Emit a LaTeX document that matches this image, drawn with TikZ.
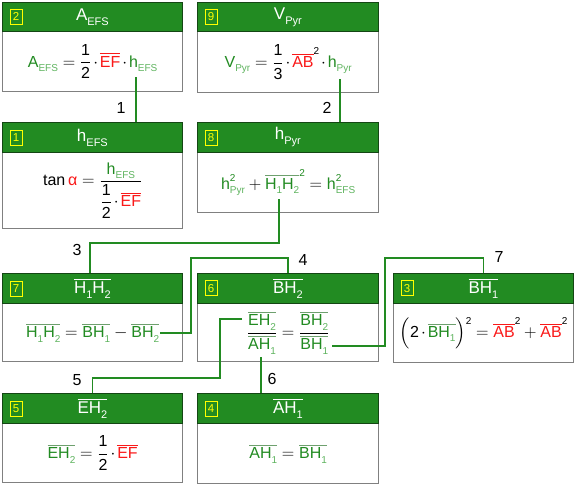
\documentclass[tikz,border=0pt]{standalone}
\usepackage{amsmath}
\usepackage{fontspec}
\setmainfont{Liberation Sans}
\usetikzlibrary{calc}
\definecolor{hdrg}{RGB}{34,139,34}
\definecolor{hdrb}{RGB}{20,70,20}
\definecolor{dg}{RGB}{34,139,34}
\definecolor{lg}{RGB}{95,180,95}
\definecolor{vred}{RGB}{250,25,25}
\definecolor{bgray}{RGB}{128,128,128}
\definecolor{badgey}{RGB}{255,255,0}
\definecolor{ovg}{RGB}{110,160,110}
\newcommand{\fs}{\fontsize{16}{19}\selectfont}
\newcommand{\tfs}{\fontsize{17}{20}\selectfont}
\newcommand{\Sb}[1]{\raisebox{-4.5pt}{\fontsize{10}{11}\selectfont #1}}
\newcommand{\Sp}[1]{\raisebox{8pt}{\fontsize{10}{11}\selectfont #1}}
\newcommand{\Spo}[1]{\text{\raisebox{12.5pt}{\fontsize{10}{11}\selectfont #1}}}
\newcommand{\TSb}[1]{\raisebox{-5pt}{\fontsize{11}{12}\selectfont #1}}
\newcommand{\dt}{\mkern2mu{\cdot}\mkern2mu}
\newcommand{\gv}[2]{\text{\textcolor{dg}{#1}\textcolor{lg}{\Sb{#2}}}}
\newcommand{\sgg}[2]{\textcolor{ovg}{\overline{\text{\textcolor{dg}{#1}\textcolor{lg}{\Sb{#2}}}}}}
\newcommand{\sgHH}{\textcolor{ovg}{\overline{\text{\textcolor{dg}{H}\textcolor{lg}{\Sb{1}}\textcolor{dg}{H}\textcolor{lg}{\Sb{2}}}}}}
\newcommand{\rEF}{\textcolor{vred}{\overline{\text{EF}}}}
\newcommand{\rAB}{\textcolor{vred}{\overline{\text{AB}}}}
\newcommand{\hsq}[1]{\text{\textcolor{dg}{h}\rlap{\textcolor{dg}{\Sp{2}}}\textcolor{lg}{\Sb{#1}}}}
\newcommand{\half}{\frac{\text{1}}{\text{2}}}
\newcommand{\mkbox}[9]{%
  \node[bodybox, minimum width=#4pt, minimum height=#6pt] (b#1) at (#2,#3+#5) {#9};
  \node[hdr, minimum width=#4pt, minimum height=#5pt] (h#1) at (#2,#3) {#8};
  \node[badge] (n#1) at ([xshift=14pt]h#1.west) {#7};
}
\begin{document}
\begin{tikzpicture}[x=1pt,y=-1pt,
  hdr/.style={draw=hdrb, line width=0.8pt, fill=hdrg, text=white, inner sep=0pt, anchor=north west, font=\tfs},
  bodybox/.style={draw=bgray, line width=1.3pt, fill=white, inner sep=0pt, anchor=north west, font=\fs},
  badge/.style={draw=badgey, line width=0.7pt, text=badgey, inner sep=0pt, minimum width=12pt, minimum height=15pt, font=\fontsize{11.5}{12}\selectfont},
  conn/.style={draw=dg, line width=1.4pt},
  lbl/.style={font=\fs, text=black, inner sep=0pt}]
\useasboundingbox (0,0) rectangle (575,485);
% row 1
\mkbox{2}{2}{2}{180}{29}{60}{2}{A\TSb{EFS}}{$\displaystyle \gv{A}{EFS}=\half\dt\rEF\dt\gv{h}{EFS}$}
\mkbox{9}{197}{2}{181}{29}{61}{9}{V\TSb{Pyr}}{$\displaystyle \gv{V}{Pyr}=\frac{\text{1}}{\text{3}}\dt\rAB\Spo{2}\dt\gv{h}{Pyr}$}
% row 2
\mkbox{1}{2}{122}{180}{30}{76}{1}{h\TSb{EFS}}{$\displaystyle \text{tan}\,\text{\textcolor{vred}{α}}=\frac{\gv{h}{EFS}}{\dfrac{\text{1}}{\text{2}}\dt\rEF}$}
\mkbox{8}{197}{122}{181}{30}{60}{8}{h\TSb{Pyr}}{$\displaystyle \hsq{Pyr}+\sgHH\text{\textcolor{dg}{\raisebox{12.5pt}{\fontsize{10}{11}\selectfont 2}}}=\hsq{EFS}$}
% row 3
\mkbox{7}{2}{273}{180}{30}{58}{7}{$\overline{\text{H\TSb{1}H\TSb{2}}}$}{$\displaystyle \sgHH=\sgg{BH}{1}-\sgg{BH}{2}$}
\mkbox{6}{197}{272.5}{181}{30.5}{58}{6}{$\overline{\text{BH\TSb{2}}}$}{$\displaystyle \frac{\sgg{EH}{2}}{\sgg{AH}{1}}=\frac{\sgg{BH}{2}}{\sgg{BH}{1}}$}
\mkbox{3}{393}{272.5}{180}{30.5}{59}{3}{$\overline{\text{BH\TSb{1}}}$}{$\displaystyle \Bigl(\text{2}\dt\sgg{BH}{1}\Bigr)\Spo{2}=\rAB\Spo{2}+\rAB\Spo{2}$}
% row 4
\mkbox{5}{2}{393}{180}{30}{59}{5}{$\overline{\text{EH\TSb{2}}}$}{$\displaystyle \sgg{EH}{2}=\half\dt\rEF$}
\mkbox{4}{197}{393}{181}{30}{60}{4}{$\overline{\text{AH\TSb{1}}}$}{$\displaystyle \sgg{AH}{1}=\sgg{BH}{1}$}
% connectors
\coordinate (s1) at (136,77);
\coordinate (s2) at (340,79);
\coordinate (s3) at (279,199);
\coordinate (k3) at (90,243);
\coordinate (s4) at (160,333);
\coordinate (k4) at (191,258);
\coordinate (s7) at (332,346);
\coordinate (k7) at (385,258);
\coordinate (s5) at (242,319);
\coordinate (k5) at (220,378);
\coordinate (s6) at (261,357);
\draw[conn] (s1) -- (s1 |- h1.north);
\draw[conn] (s2) -- (s2 |- h8.north);
\draw[conn] (s3) |- (k3) -- (k3 |- h7.north);
\draw[conn] (s4) -| (k4) -| (h6.north);
\draw[conn] (s7) -| (k7) -| (h3.north);
\draw[conn] (s5) -| (k5) -| (h5.north);
\draw[conn] (s6) -- (s6 |- h4.north);
\node[lbl] (l1) at (121,108) {1};
\node[lbl] (l2) at (327,108) {2};
\node[lbl] (l3) at (77,250) {3};
\node[lbl] (l4) at (303,260) {4};
\node[lbl] (l7) at (499,257) {7};
\node[lbl] (l5) at (77,380) {5};
\node[lbl] (l6) at (272,379) {6};
\end{tikzpicture}
\end{document}
